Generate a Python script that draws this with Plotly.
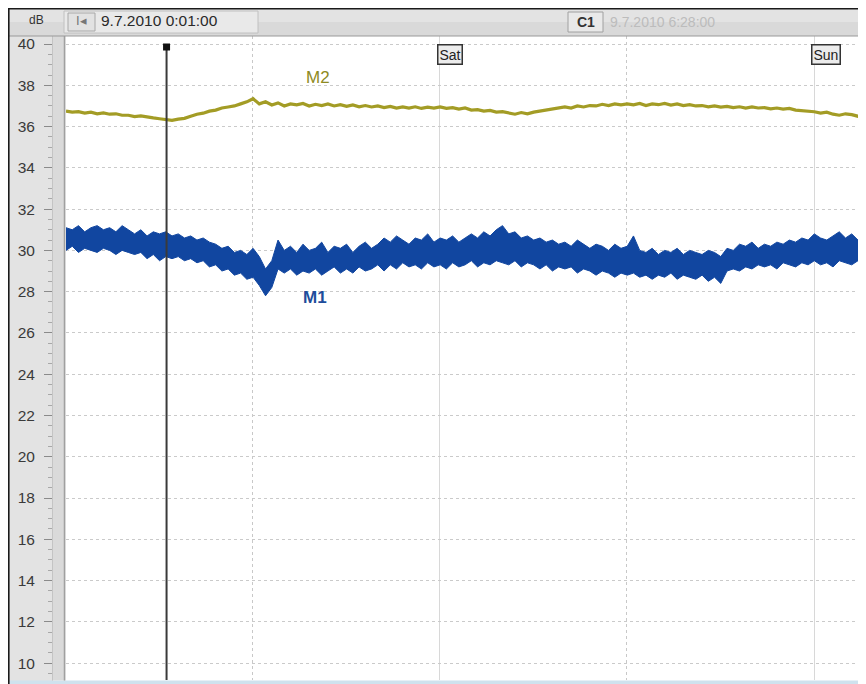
import numpy as np
import plotly.graph_objects as go

# ---------------- data ----------------
start_h = 1 / 60            # 9.7.2010 0:01:00, hours since Fri 0:00
step_h = 0.4                # sample spacing of the hand-read values (hours)
cursor_h = 6 + 28 / 60      # C1 cursor 9.7.2010 6:28:00
day_labels = ["Sat", "Sun"]
day_hours = [24, 48]
y_ticks = list(range(10, 41, 2))

m1_high = [
    31.1, 31.0, 31.2, 30.9, 31.1, 31.2, 31.0, 31.1, 30.9, 31.2,
    31.0, 30.8, 31.0, 30.7, 30.9, 30.8, 30.9, 30.7, 30.8, 30.6,
    30.7, 30.5, 30.6, 30.4, 30.3, 30.1, 30.2, 29.9, 30.0, 29.8,
    30.1, 29.7, 29.1, 29.5, 30.5, 30.0, 30.2, 29.9, 30.3, 30.0,
    30.1, 30.4, 29.9, 30.2, 30.1, 30.3, 29.9, 30.2, 30.4, 30.1,
    30.3, 30.6, 30.4, 30.7, 30.5, 30.3, 30.6, 30.5, 30.8, 30.4,
    30.6, 30.5, 30.7, 30.4, 30.6, 30.8, 30.6, 30.9, 30.7, 31.0,
    31.2, 30.8, 30.9, 30.6, 30.7, 30.5, 30.6, 30.4, 30.5, 30.3,
    30.4, 30.2, 30.5, 30.3, 30.1, 30.3, 30.2, 30.0, 30.3, 30.1,
    30.2, 30.7, 30.0, 29.9, 30.1, 29.8, 30.0, 29.9, 30.1, 29.8,
    30.0, 29.9, 29.8, 30.0, 29.9, 29.7, 30.1, 30.0, 30.3, 30.2,
    30.4, 30.1, 30.3, 30.2, 30.4, 30.3, 30.5, 30.4, 30.6, 30.5,
    30.8, 30.6, 30.5, 30.7, 30.9, 30.6, 30.8, 30.5, 30.7, 30.6,
]
m1_low = [
    30.0, 30.2, 29.9, 30.1, 30.0, 29.9, 30.1, 30.0, 29.8, 30.0,
    29.9, 29.8, 29.9, 29.6, 29.8, 29.5, 29.7, 29.6, 29.7, 29.5,
    29.6, 29.4, 29.5, 29.2, 29.3, 29.0, 29.1, 28.8, 28.9, 28.6,
    28.7, 28.3, 27.8, 28.2, 29.1, 28.9, 29.1, 28.8, 29.0, 28.9,
    29.1, 28.8, 29.0, 29.2, 28.9, 29.1, 28.9, 29.2, 29.0, 29.1,
    29.3, 29.0, 29.3, 29.1, 29.4, 29.2, 29.3, 29.1, 29.4, 29.2,
    29.3, 29.1, 29.4, 29.2, 29.3, 29.5, 29.2, 29.4, 29.3, 29.5,
    29.4, 29.3, 29.5, 29.2, 29.4, 29.3, 29.1, 29.3, 29.0, 29.2,
    29.1, 29.2, 28.9, 29.1, 29.0, 28.8, 29.0, 28.9, 28.7, 28.9,
    28.8, 28.9, 28.7, 28.8, 28.6, 28.8, 28.7, 28.9, 28.6, 28.8,
    28.7, 28.6, 28.8, 28.5, 28.7, 28.4, 29.0, 29.1, 29.0, 29.2,
    29.1, 29.3, 29.2, 29.3, 29.1, 29.4, 29.3, 29.2, 29.4, 29.3,
    29.5, 29.3, 29.4, 29.2, 29.5, 29.4, 29.3, 29.5, 29.4, 29.5,
]
m2 = [
    36.75, 36.70, 36.72, 36.65, 36.70, 36.62, 36.66, 36.60, 36.62, 36.55,
    36.55, 36.48, 36.52, 36.45, 36.42, 36.38, 36.34, 36.30, 36.36, 36.40,
    36.50, 36.60, 36.65, 36.75, 36.80, 36.90, 36.95, 37.00, 37.10, 37.20,
    37.35, 37.10, 37.20, 37.05, 37.15, 37.00, 37.10, 37.05, 37.12, 37.00,
    37.08, 37.02, 37.10, 37.00, 37.06, 36.98, 37.05, 36.96, 37.02, 36.95,
    37.00, 36.92, 36.98, 36.90, 36.95, 36.90, 36.96, 36.88, 36.94, 36.90,
    36.95, 36.88, 36.92, 36.85, 36.90, 36.80, 36.82, 36.75, 36.78, 36.70,
    36.72, 36.65, 36.60, 36.68, 36.62, 36.70, 36.75, 36.80, 36.85, 36.90,
    36.95, 36.90, 37.00, 36.95, 37.02, 37.00, 37.08, 37.02, 37.10, 37.05,
    37.10, 37.05, 37.12, 37.02, 37.10, 37.06, 37.12, 37.04, 37.10, 37.02,
    37.06, 37.00, 37.02, 36.96, 37.00, 36.94, 36.98, 36.92, 36.96, 36.90,
    36.95, 36.90, 36.92, 36.86, 36.90, 36.85, 36.88, 36.80, 36.78, 36.75,
    36.72, 36.65, 36.70, 36.60, 36.55, 36.62, 36.58, 36.50, 36.56, 36.60,
]

hours = start_h + step_h * np.arange(len(m1_high))

# ---------------- styling ----------------
# the page has an 8px body margin, so the figure starts at screen (8, 8)
OFF = 8
W, H = 866 - OFF, 684 - OFF
L, R, T, B = 66 - OFF, 0, 36 - OFF, 4
PW, PH = W - L - R, H - T - B

BLUE = "#1146a0"
OLIVE = "#a39c25"
FONT = "Liberation Sans, Arial, sans-serif"


def px(xs):
    """screen x -> paper x"""
    return (xs - OFF - L) / PW


def py(ys):
    """screen y -> paper y"""
    return (H - B - (ys - OFF)) / PH


fig = go.Figure()
fig.add_trace(go.Scatter(x=hours, y=m1_low, mode="lines", name="M1",
                         line=dict(color=BLUE, width=1), showlegend=False,
                         hoverinfo="skip"))
fig.add_trace(go.Scatter(x=hours, y=m1_high, mode="lines", name="M1",
                         line=dict(color=BLUE, width=1), fill="tonexty",
                         fillcolor=BLUE, showlegend=False))
fig.add_trace(go.Scatter(x=hours, y=m2, mode="lines", name="M2",
                         line=dict(color=OLIVE, width=3.2), showlegend=False))

shapes = [
    # header bar
    dict(type="rect", xref="paper", yref="paper", x0=px(8), x1=px(866),
         y0=py(36), y1=py(8), fillcolor="#d9d9d9", line_width=0, layer="below"),
    dict(type="rect", xref="paper", yref="paper", x0=px(8), x1=px(866),
         y0=py(22), y1=py(9), fillcolor="#e3e3e3", line_width=0, layer="below"),
    # left panel
    dict(type="rect", xref="paper", yref="paper", x0=px(8), x1=px(53),
         y0=py(684), y1=py(36), fillcolor="#e3e3e3", line_width=0, layer="below"),
    # bottom strip
    dict(type="rect", xref="paper", yref="paper", x0=px(8), x1=px(866),
         y0=py(684), y1=py(680.5), fillcolor="#cfe2ee", line_width=0, layer="below"),
    # band between ruler and plot (covers inner part of ticks)
    dict(type="rect", xref="paper", yref="paper", x0=px(52.5), x1=px(65.5),
         y0=py(680.5), y1=py(36), fillcolor="#dadada", line_width=0, layer="above"),
    dict(type="line", xref="paper", yref="paper", x0=px(52.5), x1=px(52.5),
         y0=py(680.5), y1=py(36), line=dict(color="#c4c4c4", width=1), layer="above"),
    dict(type="line", xref="paper", yref="paper", x0=px(64.5), x1=px(64.5),
         y0=py(680.5), y1=py(36), line=dict(color="#a0a0a0", width=1.5), layer="above"),
    # header separator
    dict(type="line", xref="paper", yref="paper", x0=px(8), x1=px(866),
         y0=py(36), y1=py(36), line=dict(color="#9a9a9a", width=1.2), layer="above"),
    # frame borders
    dict(type="line", xref="paper", yref="paper", x0=px(8), x1=px(866),
         y0=py(8.8), y1=py(8.8), line=dict(color="#1a1a1a", width=1.6), layer="above"),
    dict(type="line", xref="paper", yref="paper", x0=px(8.8), x1=px(8.8),
         y0=py(684), y1=py(8), line=dict(color="#1a1a1a", width=1.6), layer="above"),
    # header boxes
    dict(type="rect", xref="paper", yref="paper", x0=px(64), x1=px(258),
         y0=py(33), y1=py(11), fillcolor="#e9e9e9", line=dict(color="#c0c0c0", width=1),
         layer="below"),
    dict(type="rect", xref="paper", yref="paper", x0=px(68), x1=px(95),
         y0=py(31), y1=py(13), fillcolor="#e2e2e2", line=dict(color="#a8a8a8", width=1),
         layer="below"),
    dict(type="rect", xref="paper", yref="paper", x0=px(568), x1=px(603),
         y0=py(32), y1=py(12), fillcolor="#e9e9e9", line=dict(color="#a0a0a0", width=1),
         layer="below"),
    # cursor C1
    dict(type="line", xref="x", yref="paper", x0=cursor_h, x1=cursor_h,
         y0=0, y1=py(47), line=dict(color="#3a3a3a", width=2), layer="above"),
    dict(type="rect", xref="x", yref="paper", xsizemode="pixel", ysizemode="pixel",
         xanchor=cursor_h, yanchor=py(47), x0=-3.5, x1=3.5, y0=-3.5, y1=3.5,
         fillcolor="#111111", line_width=0, layer="above"),
]


def hdr(text, xs, ys, size, color, xanchor="center"):
    return dict(text=text, xref="paper", yref="paper", x=px(xs), y=py(ys),
                xanchor=xanchor, yanchor="middle", showarrow=False,
                font=dict(family=FONT, size=size, color=color))


annotations = [
    hdr("dB", 36, 20, 12, "#333"),
    hdr("I◂", 81, 21, 13, "#777"),
    hdr("9.7.2010 0:01:00", 99, 21, 15.5, "#2a2a2a", "left"),
    hdr("<b>C1</b>", 585.5, 22, 14, "#333"),
    hdr("9.7.2010 6:28:00", 608, 22, 14, "#bcbcbc", "left"),
    dict(text="M2", x=16.2, y=38.4, xanchor="center", yanchor="middle",
         showarrow=False, font=dict(family=FONT, size=17, color="#8e8a22")),
    dict(text="<b>M1</b>", x=16.0, y=27.7, xanchor="center", yanchor="middle",
         showarrow=False, font=dict(family=FONT, size=17, color="#1e4d9b")),
]
for lab, h in zip(day_labels, day_hours):
    annotations.append(dict(
        text=lab, x=h, xanchor="left", xshift=-3, yref="paper", y=py(44),
        yanchor="top", showarrow=False, bgcolor="#ececec", bordercolor="#333",
        borderwidth=1.5, borderpad=1, font=dict(family=FONT, size=14, color="#222")))

fig.update_layout(
    width=W, height=H,
    margin=dict(l=L, r=R, t=T, b=B, pad=0),
    paper_bgcolor="white", plot_bgcolor="white",
    shapes=shapes, annotations=annotations,
    showlegend=False,
    xaxis=dict(range=[start_h, start_h + 800 / 15.59], showticklabels=False,
               ticks="", zeroline=False, showline=False,
               tick0=0, dtick=24, showgrid=True, gridcolor="#d8d8d8", gridwidth=1,
               minor=dict(tick0=0, dtick=12, showgrid=True, gridcolor="#c8c8c8",
                          griddash="dot", ticks="")),
    yaxis=dict(range=[9.18, 40.39], tickmode="array", tickvals=y_ticks,
               ticks="outside", ticklen=21, tickcolor="#8a8a8a", tickwidth=1,
               ticklabelstandoff=6,
               tickfont=dict(family=FONT, size=15.5, color="#3a3a3a"),
               showgrid=True, gridcolor="#cacaca", griddash="3px,3px", gridwidth=1,
               zeroline=False, showline=False,
               minor=dict(dtick=0.5, tick0=10, ticks="outside", ticklen=17,
                          tickcolor="#a8a8a8", showgrid=False)),
)

fig.write_html("out.html")
